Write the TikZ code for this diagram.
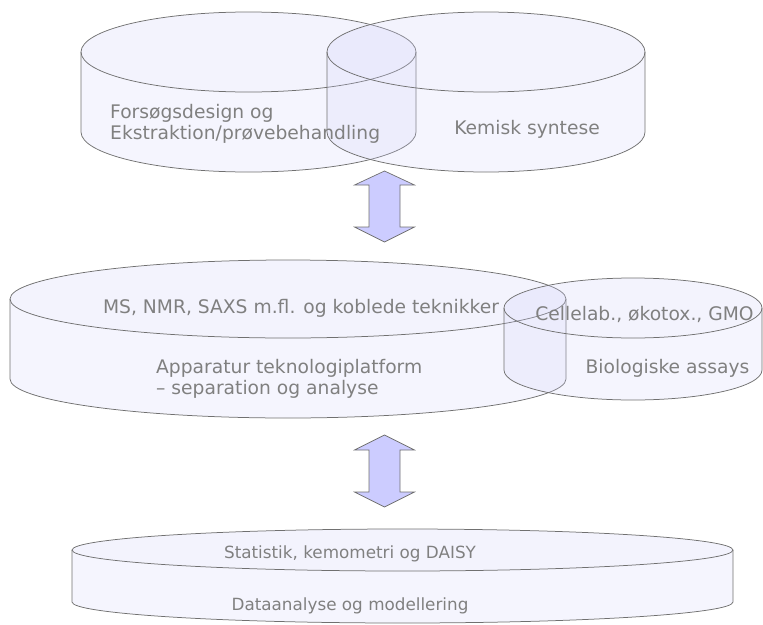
\documentclass[tikz,border=0pt]{standalone}
\usepackage{fontspec}
\setmainfont{DejaVu Sans}
\definecolor{cylfill}{RGB}{206,206,248}
\definecolor{cylline}{RGB}{112,112,112}
\definecolor{txtgray}{RGB}{128,128,128}
\definecolor{arrfill}{RGB}{204,204,255}
\newcommand{\mycyl}[5]{% cx rx cyT cyB ry
  \fill[cylfill,fill opacity=0.2] (#1-#2,#3) -- (#1-#2,#4)
     arc[start angle=180,end angle=0,x radius=#2,y radius=#5] -- (#1+#2,#3)
     arc[start angle=0,end angle=180,x radius=#2,y radius=#5] -- cycle;
  \fill[cylfill,fill opacity=0.24] (#1,#3) ellipse[x radius=#2,y radius=#5];
  \draw[cylline,line width=0.75pt] (#1-#2,#3) -- (#1-#2,#4)
     arc[start angle=180,end angle=0,x radius=#2,y radius=#5] -- (#1+#2,#3);
  \draw[cylline,line width=0.75pt] (#1,#3) ellipse[x radius=#2,y radius=#5];
}
\newcommand{\myarrow}[5]{% cx ytip yhead1 yhead2 ybottom
  \draw[cylline,fill=arrfill,line width=0.7pt] (#1,#2) -- (#1+30,#3) -- (#1+15.5,#3) -- (#1+15.5,#4) -- (#1+30,#4)
    -- (#1,#5) -- (#1-30,#4) -- (#1-15.5,#4) -- (#1-15.5,#3) -- (#1-30,#3) -- cycle;
}
\tikzset{lbl/.style={text=txtgray,inner sep=0pt,font=\fontsize{18.7}{21}\selectfont},
         lbls/.style={text=txtgray,inner sep=0pt,font=\fontsize{16.8}{20}\selectfont}}
\begin{document}
\begin{tikzpicture}[x=1pt,y=-1pt]
\useasboundingbox (0,0) rectangle (763,624);
% top row
\mycyl{248.5}{167.5}{52}{132}{40}
\mycyl{486}{159}{52}{132}{40}
\node[lbl,anchor=west,align=left] (fors) at (110,123.5) {Forsøgsdesign og\\Ekstraktion/prøvebehandling};
\node[lbl] (kemi) at (527,129) {Kemisk syntese};
% arrow 1
\myarrow{384.5}{171}{185}{227}{242}
% middle row
\mycyl{288}{278}{299}{379}{39}
\mycyl{633}{129}{308}{370}{30}
\node[lbl] (ms) at (301,308) {MS, NMR, SAXS m.fl. og koblede teknikker};
\node[lbl,anchor=west,align=left] (app) at (156,379) {Apparatur teknologiplatform\\– separation og analyse};
\node[lbl] (celle) at (644.5,314) {Cellelab., økotox., GMO};
\node[lbl] (bio) at (667.5,368) {Biologiske assays};
% arrow 2
\myarrow{384.5}{435}{450}{492}{507}
% bottom
\mycyl{402.5}{330.5}{550}{602}{21}
\node[lbls] (stat) at (350,554) {Statistik, kemometri og DAISY};
\node[lbls] (data) at (350,606) {Dataanalyse og modellering};
\end{tikzpicture}
\end{document}
